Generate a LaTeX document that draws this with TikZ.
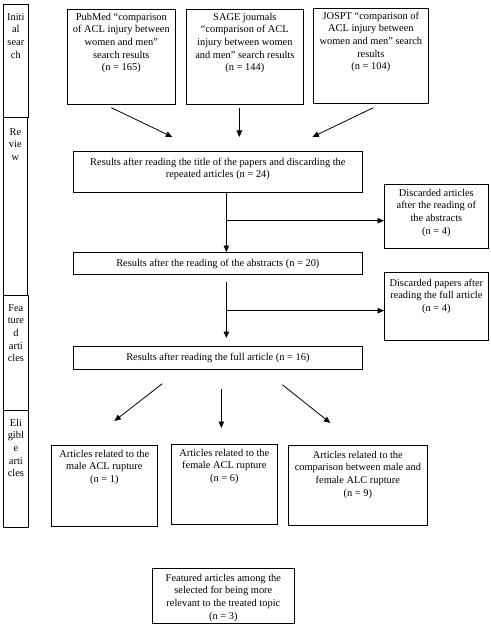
\documentclass[tikz,border=0pt]{standalone}
\usepackage{fontspec}
\setmainfont{Liberation Serif}
\usetikzlibrary{arrows.meta,calc}
\newcommand\bt[4]{\parbox[t][#2pt][t]{#1pt}{\centering\rule{0pt}{#3pt}#4}}
\begin{document}
\begin{tikzpicture}[x=1pt,y=-1pt,
  box/.style={draw, line width=0.7pt, inner sep=0pt, anchor=north west, font=\fontsize{10.4}{12.6}\selectfont},
  arr/.style={-{Triangle[length=6.5pt,width=5.5pt]}, line width=0.8pt}]
\useasboundingbox (0,0) rectangle (490,628);
\fill[white] (0,0) rectangle (490,628);
% left stage column
\node[box] (lab1) at (3,4) {\bt{25}{113}{16}{Initi\\al\\sear\\ch}};
\node[box] (lab2) at (3,117) {\bt{24}{178}{18}{Re\\vie\\w}};
\node[box] (lab3) at (3,295) {\bt{25}{115}{16}{Fea\\ture\\d\\arti\\cles}};
\node[box] (lab4) at (3,410) {\bt{25}{117}{16}{Eli\\gibl\\e\\arti\\cles}};
% main flow
\node[box] (pub) at (67,9) {\bt{108}{95}{11}{PubMed “comparison\\of ACL injury between\\women and men”\\search results\\(n = 165)}};
\node[box] (sage) at (186,9) {\bt{117}{95}{11}{SAGE journals\\“comparison of ACL\\injury between women\\and men” search results\\(n = 144)}};
\node[box] (jospt) at (313,8) {\bt{115}{95}{11}{JOSPT “comparison of\\ACL injury between\\women and men” search\\results\\(n = 104)}};
\node[box] (title) at (73,151) {\bt{289}{41}{14}{Results after reading the title of the papers and discarding the\\repeated articles (n = 24)}};
\node[box] (disc1) at (384,184) {\bt{104}{64}{12}{Discarded articles\\after the reading of\\the abstracts\\(n = 4)}};
\node[box] (abs) at (73,252) {\bt{289}{22}{14}{Results after the reading of the abstracts (n = 20)}};
\node[box] (disc2) at (384,272) {\bt{104}{68}{14}{Discarded papers after\\reading the full article\\(n = 4)}};
\node[box] (full) at (73,346) {\bt{289}{23}{14}{Results after reading the full article (n = 16)}};
\node[box] (male) at (51,445) {\bt{106}{81}{12}{Articles related to the\\male ACL rupture\\(n = 1)}};
\node[box] (female) at (171,444) {\bt{106}{80}{12}{Articles related to the\\female ACL rupture\\(n = 6)}};
\node[box] (comp) at (288,445) {\bt{139}{80}{13}{Articles related to the\\comparison between male and\\female ALC rupture\\(n = 9)}};
\node[box] (top) at (152,568) {\bt{142}{55}{13}{Featured articles among the\\selected for being more\\relevant to the treated topic\\(n = 3)}};
% connectors
\draw[arr] ($(pub.south)+(-10,3)$) -- ($(title.north)+(-45.5,-14)$);
\draw[arr] ($(sage.south)+(-5.5,3)$) -- ($(title.north)+(21.5,-14)$);
\draw[arr] ($(jospt.south)+(2.5,4)$) -- ($(title.north)+(94.5,-14)$);
\draw[arr] ($(title.south)+(8.5,0)$) -- ($(abs.north)+(8.5,0)$);
\coordinate (b1) at ($(title.south)+(8.5,28)$);
\draw[arr] (b1) -- (b1 -| disc1.west);
\draw[arr] ($(abs.south)+(8.5,7)$) -- ($(full.north)+(8.5,-8)$);
\coordinate (b2) at ($(abs.south)+(8.5,36)$);
\draw[arr] (b2) -- (b2 -| disc2.west);
\draw[arr] ($(full.south)+(-55.5,14)$) -- ($(male.north)+(10,-24)$);
\draw[arr] ($(full.south)+(3.5,19)$) -- ($(female.north)+(-3,-16)$);
\draw[arr] ($(full.south)+(64.5,15)$) -- ($(comp.north)+(-27.5,-22)$);
\end{tikzpicture}
\end{document}
